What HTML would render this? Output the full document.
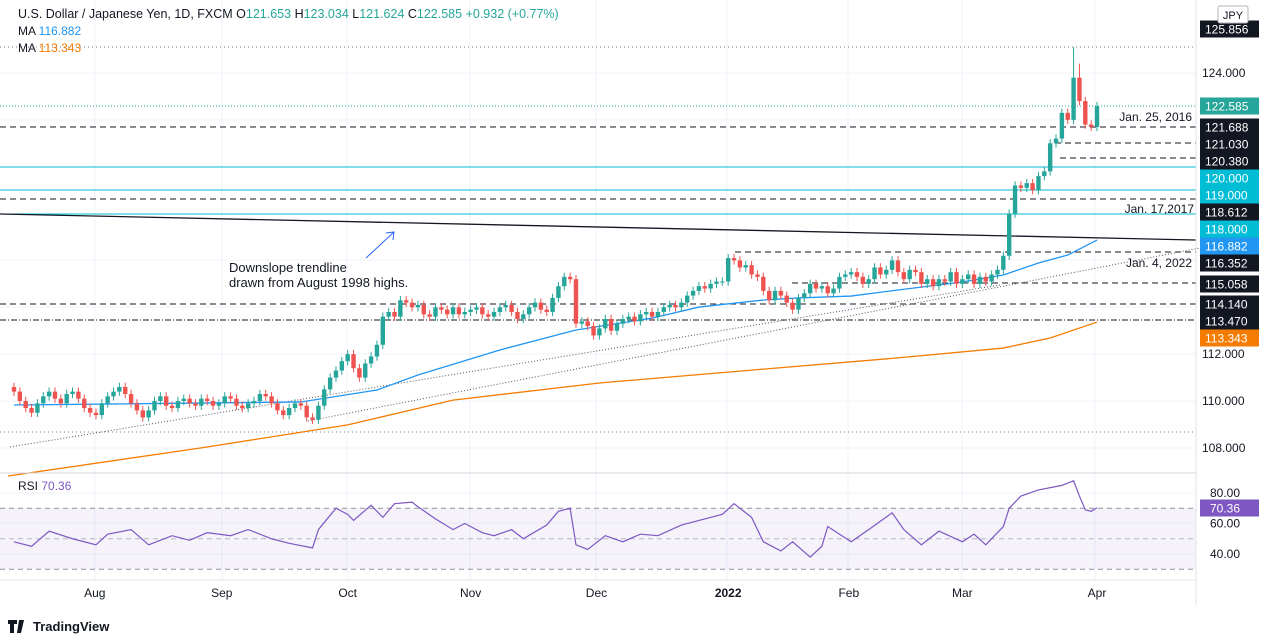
<!DOCTYPE html>
<html><head><meta charset="utf-8">
<style>
body{margin:0;background:#fff;font-family:"Liberation Sans",sans-serif;}
svg{display:block}
text{font-family:"Liberation Sans",sans-serif;}
</style></head>
<body>
<svg id="chart" width="1274" height="643" xmlns="http://www.w3.org/2000/svg">
<rect x="0" y="0" width="1274" height="643" fill="#fff"/>
<g id="grid"></g>
<g id="levels"></g>
<g id="plot"></g>
<g id="rsi"></g>
<g id="axis"></g>
<line x1="0" y1="473" x2="1196" y2="473" stroke="#d1d4dc"/>
<line x1="1196" y1="0" x2="1196" y2="605" stroke="#e0e3eb"/>
<line x1="0" y1="580" x2="1196" y2="580" stroke="#e0e3eb"/>
<text x="18" y="18" font-size="12.5" fill="#131722">U.S. Dollar / Japanese Yen, 1D, FXCM <tspan fill="#131722">O</tspan><tspan fill="#26a69a">121.653</tspan> H<tspan fill="#26a69a">123.034</tspan> L<tspan fill="#26a69a">121.624</tspan> C<tspan fill="#26a69a">122.585</tspan> <tspan fill="#26a69a">+0.932 (+0.77%)</tspan></text>
<text x="18" y="35" font-size="12" fill="#131722">MA <tspan fill="#2196f3">116.882</tspan></text>
<text x="18" y="52" font-size="12" fill="#131722">MA <tspan fill="#f57c00">113.343</tspan></text>
<text x="18" y="490" font-size="12" fill="#131722">RSI <tspan fill="#7e57c2">70.36</tspan></text>
<rect x="1218" y="6" width="30" height="17" fill="#fff" stroke="#b2b5be" rx="2"/>
<text x="1233" y="19" font-size="11" text-anchor="middle" fill="#131722">JPY</text>
<text x="229" y="272" font-size="13" fill="#131722">Downslope trendline</text>
<text x="229" y="287" font-size="13" fill="#131722">drawn from August 1998 highs.</text>
<line x1="366" y1="258" x2="394" y2="232" stroke="#2962ff" stroke-width="1"/>
<polyline points="386,233 394,232 393,240" fill="none" stroke="#2962ff"/>
<text x="1192" y="121" font-size="12" text-anchor="end" fill="#131722">Jan. 25, 2016</text>
<text x="1194" y="213" font-size="12" text-anchor="end" fill="#131722">Jan. 17,2017</text>
<text x="1192" y="267" font-size="12" text-anchor="end" fill="#131722">Jan. 4, 2022</text>
<g id="time"></g>
<text x="33" y="631" font-size="13" fill="#131722" font-weight="bold">TradingView</text>
<path d="M8 620h9v4h-3v9h-4v-9h-2z M19 620h5l-3 13h-4z" fill="#131722"/>
</svg>
<script>
const closes=[110.4,110.0,109.7,109.5,109.9,110.2,110.4,110.1,109.9,110.3,110.4,110.1,109.7,109.5,
109.4,109.9,110.2,110.4,110.6,110.3,109.9,109.6,109.3,109.6,110.0,110.2,109.8,109.7,110.0,110.1,109.9,109.8,110.1,110.0,109.8,109.9,
110.2,110.1,109.8,109.7,109.9,110.0,110.3,110.2,109.9,109.6,109.4,109.7,109.9,109.8,109.3,109.2,109.8,110.5,111.0,111.3,111.7,
112.0,111.4,111.0,111.6,111.9,112.4,113.6,113.8,113.6,114.3,114.2,114.0,114.1,113.7,113.6,114.0,113.9,113.7,114.0,113.7,113.8,
113.9,114.0,113.7,113.6,113.8,114.0,114.1,113.8,113.5,113.7,114.0,114.2,113.9,113.8,114.4,114.9,115.3,115.2,113.3,113.4,113.2,
112.8,113.1,113.5,113.0,113.3,113.5,113.6,113.4,113.7,113.8,113.6,113.8,114.0,114.1,114.0,114.2,114.5,114.7,114.9,114.8,115.0,115.1,115.1,
116.1,116.0,115.7,115.8,115.4,115.3,114.7,114.3,114.7,114.5,114.2,113.9,114.4,114.6,115.0,114.8,114.9,114.6,114.8,115.3,115.4,
115.5,115.3,115.0,115.2,115.7,115.4,115.6,116.0,115.5,115.2,115.6,115.5,115.0,115.2,114.9,115.2,115.1,115.5,115.0,
115.2,115.4,115.0,115.3,115.1,115.4,115.6,116.2,118.0,119.2,119.1,119.3,119.0,119.6,119.8,121.0,121.2,122.3,122.0,123.8,122.8,121.8,121.7,122.585];
const firstOpen=110.6;
const spikeIdx=[181,182];
const spikeHigh=[125.1,124.4];
const ma50Idx=[0,49,62,69,83,96,109,117,128,134,143,151,162,169,175,180,185];
const ma50Val=[109.83,109.96,110.47,111.11,112.18,113.03,113.54,114.01,114.31,114.4,114.48,114.74,115.08,115.38,115.89,116.23,116.87];
const ma200Idx=[-1,32,57,75,100,126,151,169,177,185];
const ma200Val=[106.8,108.0,108.98,110.04,110.77,111.32,111.84,112.26,112.69,113.37];
const rsiIdx=[0,3,6,10,14,16,20,23,27,30,33,37,40,44,47,51,52,55,57,58,61,63,65,68,69,72,75,77,80,82,85,87,91,93,95,96,98,101,104,107,110,114,117,121,123,126,128,131,133,136,138,139,143,146,150,152,155,158,162,164,166,169,170,172,175,179,181,182,183,184,185];
const rsiVal=[48,45,55,50,46,53,56,46,52,49,54,52,56,50,47,44,56,70,66,62,72,64,73,74,71,63,56,60,54,52,56,50,59,68,70,46,43,52,48,53,52,59,62,66,73,64,48,42,48,38,45,58,48,56,67,56,46,55,48,53,46,58,70,78,82,85,88,78,69,68,70.36];
const priceTicks=[124,112,110,108];
const rsiTicks=[80,60,40];
const months=["Aug","Sep","Oct","Nov","Dec","2022","Feb","Mar","Apr"];
const monthIdx=[13.8,35.5,57,78,99.5,122,142.6,162,185];

const NS="http://www.w3.org/2000/svg";
const xs=i=>14+i*(1083/(closes.length-1));
const ys=p=>73+(124-p)*23.43;
const yr=r=>493+(80-r)*1.525;
function mk(parent,tag,attrs){const e=document.createElementNS(NS,tag);for(const k in attrs)e.setAttribute(k,attrs[k]);document.getElementById(parent).appendChild(e);return e;}

[95,222,347,470,596,727,848,962,1095].forEach(x=>{const l=mk('grid','line',{x1:x,y1:0,x2:x,y2:580,stroke:'#f0f3fa'});

});
[73,120,167,214,260,307,354,401,448,493,523,554].forEach(y=>{const l=mk('grid','line',{x1:0,y1:y,x2:1196,y2:y,stroke:'#f0f3fa'});

});

const lv=[[47,0,'#787b86','1 3'],[106,0,'#26a69a','1 2'],[127,0,'#131722','6 4'],[143,1055,'#131722','6 4'],[158,1060,'#131722','6 4'],[167,0,'#00bcd4',''],[190,0,'#00bcd4',''],[199,0,'#131722','6 4'],[214,0,'#00bcd4',''],[252,735,'#131722','6 4'],[283,792,'#131722','6 4'],[304,0,'#131722','6 4'],[320,0,'#131722','6 2 1 2'],[432,0,'#787b86','1 3']];
lv.forEach(a=>{const l=mk('levels','line',{x1:a[1],y1:a[0],x2:1196,y2:a[0],stroke:a[2],'stroke-dasharray':a[3]});

});
let t=mk('levels','line',{x1:0,y1:214,x2:1196,y2:240,stroke:'#131722','stroke-width':1.3});


t=mk('levels','line',{x1:10,y1:447,x2:1000,y2:285,stroke:'#555','stroke-dasharray':'1 2'});


t=mk('levels','line',{x1:308,y1:421,x2:1200,y2:248,stroke:'#555','stroke-dasharray':'1 2'});



function pline(idx,val,color,name){const p=mk('plot','polyline',{points:idx.map((i,k)=>xs(i)+','+ys(val[k])).join(' '),fill:'none',stroke:color,'stroke-width':1.3});

}
pline(ma200Idx,ma200Val,'#f57c00','ma200-line');
pline(ma50Idx,ma50Val,'#2196f3','ma50-line');

const bw=4.4;
closes.forEach((c,i)=>{const o=i?closes[i-1]:firstOpen;const up=c>=o;const col=up?'#26a69a':'#ef5350';
let hi=Math.max(o,c)+0.18,lo=Math.min(o,c)-0.18;const si=spikeIdx.indexOf(i);if(si>=0)hi=spikeHigh[si];
const x=xs(i);
const w=mk('plot','line',{x1:x,y1:ys(hi),x2:x,y2:ys(lo),stroke:col});


const b=mk('plot','rect',{x:x-bw/2,y:ys(Math.max(o,c)),width:bw,height:Math.max(1,Math.abs(ys(o)-ys(c))),fill:col});

});

let r=mk('rsi','rect',{x:0,y:yr(70),width:1196,height:yr(30)-yr(70),fill:'#7e57c2','fill-opacity':0.08});


[[70,'5 4'],[50,'5 4'],[30,'5 4']].forEach(a=>{const l=mk('rsi','line',{x1:0,y1:yr(a[0]),x2:1196,y2:yr(a[0]),stroke:'#787b86','stroke-dasharray':a[1],'stroke-opacity':a[0]==50?0.5:0.8});

});
r=mk('rsi','polyline',{points:rsiIdx.map((i,k)=>xs(i)+','+yr(rsiVal[k])).join(' '),fill:'none',stroke:'#7e57c2','stroke-width':1.2});



priceTicks.forEach(p=>{const e=mk('axis','text',{x:1202,y:ys(p)+4,'font-size':12,fill:'#131722'});e.textContent=p.toFixed(3);

});
rsiTicks.forEach(v=>{const e=mk('axis','text',{x:1210,y:yr(v)+4,'font-size':12,fill:'#131722'});e.textContent=v.toFixed(2);

});
const boxes=[[29,'125.856','#131722'],[106,'122.585','#26a69a'],[127,'121.688','#131722'],[144,'121.030','#131722'],[161,'120.380','#131722'],[178,'120.000','#00bcd4'],[195,'119.000','#00bcd4'],[212,'118.612','#131722'],[229,'118.000','#00bcd4'],[246,'116.882','#2196f3'],[263,'116.352','#131722'],[284,'115.058','#131722'],[304,'114.140','#131722'],[321,'113.470','#131722'],[338,'113.343','#f57c00'],[508,'70.36','#7e57c2']];
boxes.forEach(b=>{const rc=mk('axis','rect',{x:1200,y:b[0]-8.5,width:59,height:17,fill:b[2]});


const e=mk('axis','text',{x:b[1].length>5?1205:1210,y:b[0]+4.5,'font-size':12,fill:'#fff'});e.textContent=b[1];

});
months.forEach((m,k)=>{const e=mk('time','text',{x:xs(monthIdx[k]),y:597,'font-size':12,'text-anchor':'middle',fill:'#131722','font-weight':m==='2022'?'bold':'normal'});e.textContent=m;

});
</script>
</body></html>
